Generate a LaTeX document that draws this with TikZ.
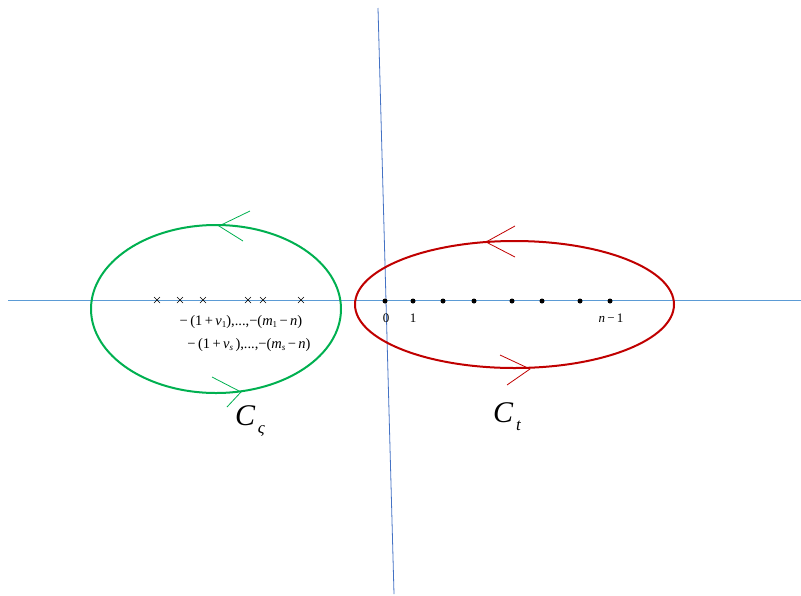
\documentclass[tikz,border=0pt]{standalone}
\usepackage{fontspec}
\setmainfont{Liberation Serif}
\definecolor{axblue}{HTML}{5B9BD5}
\definecolor{vblue}{HTML}{4472C4}
\definecolor{cgreen}{HTML}{00B050}
\definecolor{cred}{HTML}{C00000}
\newcommand{\sbs}[1]{\raisebox{-2.5pt}{\fontsize{9}{9}\selectfont #1}}
\begin{document}
\begin{tikzpicture}[x=1pt,y=-1pt,
  axis/.style={axblue,line width=0.8pt},
  crossmark/.style={black,line width=0.5pt},
  ptdot/.style={circle,fill=black,inner sep=0pt,minimum size=5pt},
  lbl/.style={font=\fontsize{13}{13}\selectfont,inner sep=0pt},
  mlbl/.style={font=\fontsize{14.5}{14.5}\selectfont,inner sep=0pt},
  big/.style={font=\fontsize{30}{30}\selectfont\itshape,inner sep=0pt}]
\useasboundingbox (0,0) rectangle (801,595);
% axes
\coordinate (hl) at (8,300);
\coordinate (hr) at (801,300);
\coordinate (vt) at (378,8);
\coordinate (vb) at (394,594);
\draw[axis] (hl) -- (hr);
\draw[vblue,line width=0.8pt] (vt) -- (vb);
% contours
\draw[cgreen,line width=2pt] (216,309) ellipse [x radius=125, y radius=84];
\draw[cred,line width=2pt] (514.5,304.5) ellipse [x radius=159.5, y radius=63.5];
% arrow chevrons
\coordinate (gt) at (219,226);
\coordinate (gb) at (241,392);
\coordinate (rt) at (486,242);
\coordinate (rb) at (530,369);
\draw[cgreen,line width=0.8pt] (250,211) -- (gt) -- (243,241);
\draw[cgreen,line width=0.8pt] (212,377) -- (gb) -- (227,407);
\draw[cred,line width=0.8pt] (515,226) -- (rt) -- (515,257);
\draw[cred,line width=0.8pt] (500,355) -- (rb) -- (507,385);
% crosses
\foreach \x in {157,180,203,248,263,301}
  \draw[crossmark] (\x-3,297) -- (\x+3,303) (\x-3,303) -- (\x+3,297);
% dots
\foreach \x/\n in {385/d0,413/d1,443/d2,474/d3,512/d4,542/d5,580/d6,610/d7}
  \node[ptdot] (\n) at (\x,301) {};
% labels
\node[lbl] (l0) at (386,318) {0};
\node[lbl] (l1) at (413,318) {1};
\node[lbl] (ln) at (611,318) {\textit{n}\,−\,1};
\node[mlbl] (t1) at (241,322) {−\,(1\,+\,\textit{ν}\sbs{1}),...,−(\textit{m}\sbs{1}\,−\,\textit{n})};
\node[mlbl] (t2) at (249,345) {−\,(1\,+\,\textit{ν}\sbs{\textit{s}}\,),...,−(\textit{m}\sbs{\textit{s}}\,−\,\textit{n})};
\node[big] (cz) at (250,421) {C\raisebox{-8pt}{\fontsize{17}{17}\selectfont\itshape\,ς}};
\node[big] (ct) at (507,417) {C\raisebox{-8pt}{\fontsize{17}{17}\selectfont\itshape\,t}};
\end{tikzpicture}
\end{document}
